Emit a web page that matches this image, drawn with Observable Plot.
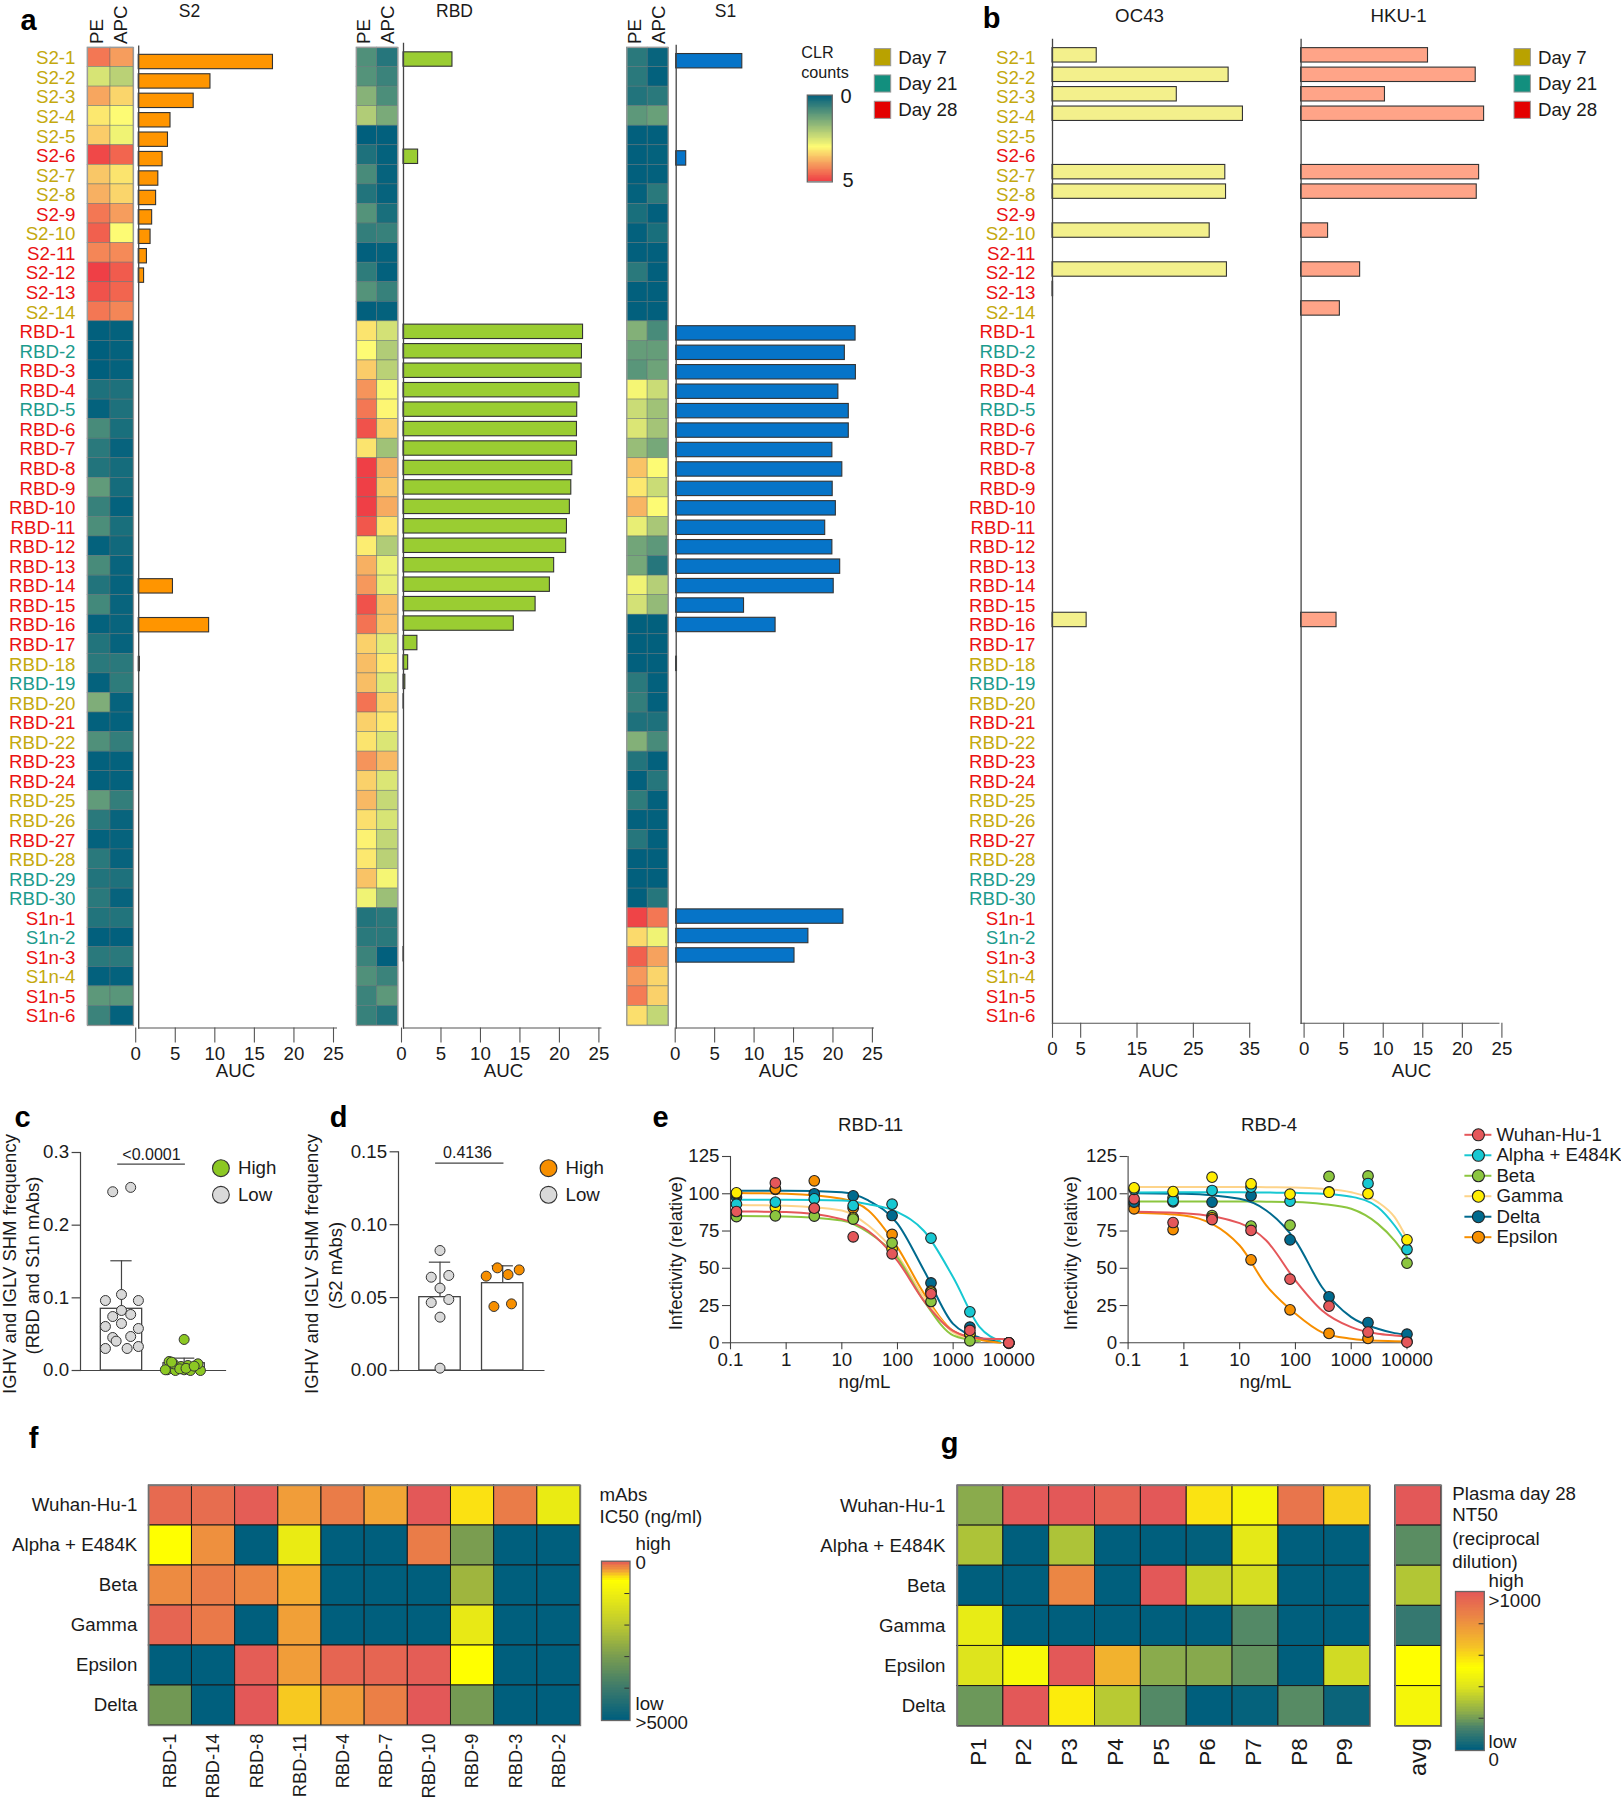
<!DOCTYPE html>
<html><head><meta charset="utf-8">
<script src="https://cdn.jsdelivr.net/npm/d3@7"></script>
<script src="https://cdn.jsdelivr.net/npm/@observablehq/plot@0.6"></script>
<style>html,body{margin:0;padding:0;background:#fff}#root{position:relative;width:1621px;height:1800px;overflow:hidden}</style>
</head><body><div id="root"></div>
<script>
// ---------- DATA ----------
const rowNames=["S2-1","S2-2","S2-3","S2-4","S2-5","S2-6","S2-7","S2-8","S2-9","S2-10","S2-11","S2-12","S2-13","S2-14",
"RBD-1","RBD-2","RBD-3","RBD-4","RBD-5","RBD-6","RBD-7","RBD-8","RBD-9","RBD-10","RBD-11","RBD-12","RBD-13","RBD-14","RBD-15","RBD-16","RBD-17","RBD-18","RBD-19","RBD-20","RBD-21","RBD-22","RBD-23","RBD-24","RBD-25","RBD-26","RBD-27","RBD-28","RBD-29","RBD-30",
"S1n-1","S1n-2","S1n-3","S1n-4","S1n-5","S1n-6"];
const rowDay=[7,7,7,7,7,28,7,7,28,7,28,28,28,7,
28,21,28,28,21,28,28,28,28,28,28,28,28,28,28,28,28,7,21,7,28,7,28,28,7,7,28,7,21,21,
28,21,28,7,28,28];
const s2PE=[4.4,2.55,3.9,3.2,3.5,4.9,3.55,3.8,4.4,4.65,4.25,5,4.8,4.4,.02,0,0,.35,.05,.85,.5,.4,1.15,.65,.9,.05,.85,.4,.8,.05,.4,.5,.05,1.5,.03,.95,.03,.03,1.15,.5,.05,.5,.4,.5,.4,.02,.5,.03,1.1,.7];
const s2APC=[4,2.2,3.4,3,2.85,4.6,3.25,3.4,4,3,4.2,4.7,4.6,4.25,.05,.05,.05,.35,.35,.3,.08,.25,.25,.05,.3,.2,.1,.07,.1,.1,.07,.5,.55,.07,.05,.6,.05,.05,.6,.1,.07,.08,.35,.08,.4,.02,.5,.05,1.05,.05];
const rbdPE=[.95,1,1.6,2.1,0,.35,.85,.4,1,.6,.02,.55,1,.02,3.25,3,3.5,4.1,4.4,4.8,3.25,5,5,5,4.75,3.15,3.8,4.05,4.8,4.45,3.45,3.65,3.65,4.45,3.45,3.25,4.1,3.45,3.7,3.3,3.1,3.2,3.6,2.85,.4,.5,.7,.95,.7,.65];
const rbdAPC=[.45,.7,.9,1.45,.02,.05,.07,.07,.3,.65,.05,.03,.65,.05,2.5,2.1,2.2,2.95,3.05,3.45,1.9,3.8,3.55,3.85,3.25,2.1,2.8,2.75,3.65,3.6,2.7,3.2,2.65,3.45,3.2,2.6,3.7,2.6,2.35,2.55,2.3,2.2,2.9,1.85,.5,.5,.02,.7,1.1,.4];
const s1PE=[.5,.5,.4,1.1,.02,.02,.02,.05,.3,.03,.02,.5,.02,.02,1.55,1.2,1.05,2.9,2.4,2.6,1.8,3.6,3.2,3.75,2.75,1.35,1.4,2.85,2.5,.02,.02,.02,.5,.6,.35,1.55,.4,.03,.55,.03,.45,.02,.02,.02,4.95,3.35,4.65,4.05,4.35,3.3];
const s1APC=[.1,.03,.5,1.25,.02,.05,.03,.5,.02,.3,.02,.02,.02,.02,.85,1.2,1.3,2.4,1.9,1.95,1.4,3,2.4,3,2,1.1,.45,2.15,1.75,.02,.02,.02,.03,.03,.35,.85,.03,.45,.03,.03,.03,.02,.02,.45,4.4,2.85,3.95,3.4,3.45,2.3];
const s2AUC=[16.97,9.07,6.95,4.02,3.7,3.02,2.48,2.2,1.7,1.5,1.04,.68,0,0,0,0,0,0,0,0,0,0,0,0,0,0,0,4.33,0,8.9,0,.15,0,0,0,0,0,0,0,0,0,0,0,0,0,0,0,0,0,0];
const rbdAUC=[6.2,0,0,0,0,1.85,0,0,0,0,0,0,0,0,22.74,22.6,22.56,22.3,22,21.97,21.97,21.38,21.25,21.07,20.7,20.6,19.08,18.54,16.73,13.97,1.76,.59,.23,.05,0,0,0,0,0,0,0,0,0,0,0,0,.03,0,0,0];
const s1AUC=[8.38,0,0,0,0,1.27,0,0,0,0,0,0,0,0,22.74,21.38,22.78,20.56,21.88,21.88,19.8,21.06,19.84,20.24,18.89,19.8,20.79,19.97,8.6,12.6,0,.1,0,0,0,0,0,0,0,0,0,0,0,0,21.2,16.76,15,0,0,0];
const oc43AUC=[7.85,31.26,22.06,33.8,0,0,30.67,30.8,0,27.9,0,30.96,.1,0,0,0,0,0,0,0,0,0,0,0,0,0,0,0,0,6.06,0,0,0,0,0,0,0,0,0,0,0,0,0,0,0,0,0,0,0,0];
const hku1AUC=[16.04,22.07,10.6,23.13,0,0,22.5,22.2,0,3.41,0,7.46,0,4.9,0,0,0,0,0,0,0,0,0,0,0,0,0,0,0,4.48,0,0,0,0,0,0,0,0,0,0,0,0,0,0,0,0,0,0,0,0];
const channels=["PE","APC"];
const dayNames=["Day 7","Day 21","Day 28"];
const dayColors=["#b9a200","#128f7e","#e30000"];
const dayTextColors={7:"#c4a90e",21:"#1c9b8d",28:"#ea1212"};

// panel c / d
const cLowX=[.86,1.147,1,.744,1.27,1,.86,1.147,1,.744,1.27,1.147,.86,.915,.744,1.09,1.27];
const cLowY=[.246,.252,.1046,.0963,.0963,.0826,.0743,.0771,.0647,.0606,.0578,.0468,.0454,.0404,.0303,.0303,.033];
const cHighX=[2,1.73,1.86,2,2.1,2.26,1.76,1.83,1.95,2.06,2.22,1.7,1.8,1.93,2.03,2.16];
const cHighY=[.0427,.001,0,.001,0,0,.0124,.0092,.0055,.0069,.0092,.001,.0115,.0023,.003,.006];
const dLowX=[1,.86,1.14,1,.86,1.14,1,1];
const dLowY=[.0823,.064,.0652,.0565,.0466,.0487,.0366,.0016];
const dHighX=[1.915,1.737,2.085,2.263,1.86,2.14];
const dHighY=[.0704,.0647,.0658,.069,.0439,.0457];

// panel e
const seriesNames=["Wuhan-Hu-1","Alpha + E484K","Beta","Gamma","Delta","Epsilon"];
const lineColors=["#e5575a","#17c8d2","#8cc63f","#fdd48a","#006a8e","#f78f00"];
const dotColors=["#e5575a","#17c8d2","#8cc63f","#ffed00","#006a8e","#f78f00"];
const doses=[.128,.64,3.2,16,80,400,2000,10000];
const rbd11Dots={
 "Wuhan-Hu-1":[88.1,107.3,90.3,71.1,59.7,32.9,8.3,0],
 "Alpha + E484K":[93,94.4,96.6,92.1,93,70.2,20.8,0],
 "Beta":[84.7,85.2,85,83,67,27.7,1.3,0],
 "Gamma":[100.6,90.8,90,83.9,63,34,6,0],
 "Delta":[97.7,103,100,98.6,85.4,40.2,10.5,0],
 "Epsilon":[100,103.3,108.7,90.3,72.7,34.7,5.6,0]};
const rbd11CurveX=[.128,1,10,30,100,300,1000,3000,7000,10000];
const rbd11Curves={
 "Wuhan-Hu-1":[88.1,87.8,83,75,55,28,8,3,2.5,2.4],
 "Alpha + E484K":[96,96,95.5,93,87.7,75,44,10.5,1,null],
 "Beta":[85,84.8,82,74,57,28,5,1,null,null],
 "Gamma":[92.5,92,88.8,78.7,58.6,30.6,7,1,null,null],
 "Delta":[102,102,101,95.5,80,48.5,12.7,3.4,.5,null],
 "Epsilon":[100.5,100,96.6,88.8,64,33,8,2,0,null]};
const rbd4Dots={
 "Wuhan-Hu-1":[96.6,80.7,82.7,75.4,42.7,24.6,7.2,.4],
 "Alpha + E484K":[103,95.3,102.2,104.4,95,101.3,106.9,62.6],
 "Beta":[92.8,97.3,85.4,78.3,78.9,111.6,112,53.4],
 "Gamma":[104,101.5,111.1,106.7,99.7,101,100,69.1],
 "Delta":[94.4,94.6,94.4,98.8,69.1,30.9,13.6,5.8],
 "Epsilon":[89.9,76,83.9,55.7,22.1,6.3,2.9,.9]};
const rbd4CurveX=[.128,1,10,30,100,300,1000,3000,6000,10000];
const rbd4Curves={
 "Wuhan-Hu-1":[87.9,87,80.3,68.6,41.8,21.7,10.5,6,4.9,4.2],
 "Alpha + E484K":[100.8,101,101,100.8,100.6,100,98,91,78.7,66.4],
 "Beta":[94.8,94.8,94.8,94.7,94.4,93.2,89.9,79.8,68.6,57.5],
 "Gamma":[104.6,104.6,104.6,104.4,104.2,103.3,101,94.4,84.3,69.8],
 "Delta":[100.4,100,96.6,88.8,68.6,37.3,17.2,9.4,6.5,5.6],
 "Epsilon":[87.2,85.4,65.3,38.5,19.5,7,2.7,1.3,1.1,.9]};
const rbd11Order=["Delta","Epsilon","Gamma","Beta","Alpha + E484K","Wuhan-Hu-1"];
const rbd4Order=["Beta","Epsilon","Delta","Wuhan-Hu-1","Alpha + E484K","Gamma"];

// panels f / g
const variants=["Wuhan-Hu-1","Alpha + E484K","Beta","Gamma","Epsilon","Delta"];
const mAbs=["RBD-1","RBD-14","RBD-8","RBD-11","RBD-4","RBD-7","RBD-10","RBD-9","RBD-3","RBD-2"];
const ic50Scores=[
 [4.93,4.92,4.98,4.73,4.86,4.7,5,4.5,4.86,3.9],
 [4.4,4.78,0,3.9,0,0,4.86,2,0,0],
 [4.8,4.86,4.82,4.68,0,0,0,2.55,0,0],
 [4.95,4.87,0,4.72,0,0,0,3.85,0,0],
 [0,0,4.98,4.73,4.95,4.95,4.98,4.4,0,0],
 [1.85,0,5,4.58,4.73,4.85,5,1.9,0,0]];
const patients=["P1","P2","P3","P4","P5","P6","P7","P8","P9"];
const nt50Scores=[
 [1.15,5,5,4.85,5,2.9,2.4,4.5,3.1],
 [1.5,0,1.5,0,0,.02,2.1,0,0],
 [0,0,4.2,0,5,1.75,1.9,0,0],
 [2.15,0,0,0,0,0,.75,0,0],
 [1.98,2.45,5,3.5,1.15,1.13,.85,0,1.85],
 [.93,5,2.8,1.6,.75,0,.05,.78,.1]];
const nt50Avg=[5,.8,1.55,.5,2.6,2.4];

// ---------- LAYOUT ----------
const W=1621,H=1800,FONT="'Liberation Sans',Arial,sans-serif",FS=18.7;
const root=document.getElementById("root");
function box(l,r,t,b){return {width:W,height:H,marginLeft:l,marginRight:W-r,marginTop:t,marginBottom:H-b};}
function add(o){
  const p=Plot.plot({...o,style:{fontFamily:FONT,fontSize:FS+"px",background:"transparent",overflow:"visible",color:"#1a1a1a"}});
  p.style.position="absolute";p.style.left="0";p.style.top="0";root.append(p);
}
const clrScale={type:"linear",domain:[0,3,5],range:["#005f7d","#fdfb74","#ef3f46"]};
const ic50Scale={type:"linear",domain:[0,1,2,3,4,4.4,4.7,5],range:["#005f7d","#3d7a6b","#7a9d50","#bdc930","#efef10","#ffff00","#f2a535","#e35858"]};
const nt50Scale={type:"linear",domain:[0,.65,1.15,2,2.6,3.25,4.1,5],range:["#005f7d","#45806c","#8aab4c","#e0e51c","#ffff00","#f5c226","#ec8c42","#e35858"]};

// ---------- row labels (point scale: the range runs from first to last label centre) ----------
function rowLabels(right){
  add({...box(0,right,0,1100),x:{axis:null,domain:[0,1]},y:{axis:null,type:"point",domain:rowNames,range:[57.9,1016],round:false,padding:0},
    marks:[7,21,28].map(day=>Plot.text(rowNames.filter((n,i)=>rowDay[i]===day),{y:d=>d,text:d=>d,frameAnchor:"right",fill:dayTextColors[day],fontSize:FS}))});
}
rowLabels(75);rowLabels(1035);

// ---------- CLR heatmaps ----------
function clrHeat(l,r,pe,apc){
  const cells=rowNames.flatMap((row,i)=>[{row,ch:"PE",v:pe[i]},{row,ch:"APC",v:apc[i]}]);
  add({...box(l,r,47,1025),color:clrScale,x:{axis:null,domain:channels,padding:0,round:false},y:{axis:null,domain:rowNames,padding:0,round:false},
    marks:[Plot.cell(cells,{x:"ch",y:"row",fill:"v",stroke:"#5f6f72",strokeWidth:.6,strokeOpacity:.75}),Plot.frame({stroke:"#9a9a9a",strokeWidth:1.2})]});
}
clrHeat(87,133,s2PE,s2APC);clrHeat(356,397.5,rbdPE,rbdAPC);clrHeat(626.4,667.9,s1PE,s1APC);

// ---------- AUC bars ----------
function aucBars(o){
  const data=rowNames.map((row,i)=>({row,v:o.values[i]})).filter(d=>d.v>0);
  add({...box(o.l,o.r,o.top,o.bottom),
    x:{axis:null,domain:o.domain},
    y:{axis:null,domain:rowNames,range:o.yRange,round:false,paddingInner:.26,paddingOuter:.13},
    marks:[
      Plot.barX(data,{x:"v",y:"row",fill:o.fill,stroke:"#333",strokeWidth:1.1}),
      Plot.frame({anchor:"left",stroke:"#444",strokeWidth:1.3}),
      Plot.frame({anchor:"bottom",stroke:"#555",strokeWidth:1.1}),
      Plot.axisX({ticks:o.ticks,tickSize:15,tickPadding:3.5,stroke:"#555",strokeWidth:1.1,label:null,dx:o.dx||0,fontSize:FS})
    ]});
}
const t25=[0,5,10,15,20,25];
aucBars({l:138.2,r:336,top:45.7,bottom:1027.5,domain:[0,25],values:s2AUC,fill:"#ff9500",yRange:[51.8,1022.8],ticks:t25,dx:-3});
aucBars({l:403,r:600.4,top:43,bottom:1027.5,domain:[0,25],values:rbdAUC,fill:"#9acd32",yRange:[49.3,1021.8],ticks:t25,dx:-2});
aucBars({l:675.7,r:872.9,top:45,bottom:1027.5,domain:[0,25],values:s1AUC,fill:"#0674c8",yRange:[51,1023],ticks:t25,dx:-1});
aucBars({l:1052,r:1249.2,top:39,bottom:1022.8,domain:[0,35],values:oc43AUC,fill:"#f3f08c",yRange:[45.1,1018.6],ticks:[0,5,15,25,35],dx:0});
aucBars({l:1300.6,r:1498.4,top:39,bottom:1022.8,domain:[0,25],values:hku1AUC,fill:"#ffa488",yRange:[45.1,1018.6],ticks:t25,dx:3});

// ---------- day legends ----------
function dayLegend(l,r){
  add({...box(l,r,0,200),color:{type:"identity"},x:{axis:null,domain:[0,1]},
    y:{axis:null,domain:dayNames,range:[44,123],paddingInner:.35,paddingOuter:.175,round:false},
    marks:[Plot.barX(dayNames,{x1:()=>0,x2:()=>1,y:d=>d,fill:(d,i)=>dayColors[i],stroke:"#999",strokeWidth:1}),
      Plot.axisY({anchor:"right",tickSize:0,tickPadding:7,label:null,fontSize:FS})]});
}
dayLegend(874.3,890.7);dayLegend(1514,1530.4);

// ---------- colour bars ----------
const barSteps=d3.range(0,101);
function colorBar(o){
  add({...box(o.l,o.r,o.top,o.bottom),color:o.scale,x:{axis:null,domain:[0,1]},
    y:{axis:null,domain:o.reverse?barSteps.slice().reverse():barSteps,padding:0,round:false},
    marks:[Plot.cell(barSteps,{y:d=>d,fill:d=>d/20,shapeRendering:"crispEdges"}),
      ...(o.notches?[Plot.ruleY([20,40,60,80],{y:d=>d,x1:()=>.82,x2:()=>1,stroke:"#333",strokeWidth:1})]:[]),
      Plot.frame({stroke:"#666",strokeWidth:1.3})]});
}
colorBar({l:806.8,r:831.8,top:94.6,bottom:181.4,scale:clrScale});
colorBar({l:601,r:629.5,top:1560.7,bottom:1720,scale:ic50Scale,reverse:true,notches:true});
colorBar({l:1455,r:1483.8,top:1591,bottom:1750,scale:nt50Scale,reverse:true,notches:true});

// ---------- panels c, d ----------
function toPts(xs,ys){return xs.map((x,i)=>({x,y:ys[i]}));}
function shmPanel(o){
  const bars=[{x1:.67,x2:1.33,x:1,mean:o.lowMean,top:o.lowTop,cap:.17},{x1:1.67,x2:2.33,x:2,mean:o.highMean,top:o.highTop,cap:.17}];
  add({...box(o.l,o.r,o.t,1370),x:{axis:null,domain:o.xDomain},y:{axis:null,domain:o.yDomain},
    marks:[
      Plot.rectY(bars,{x1:"x1",x2:"x2",y:"mean",fill:"#fff",stroke:"#444",strokeWidth:1.3}),
      Plot.ruleX(bars,{x:"x",y1:"mean",y2:"top",stroke:"#444",strokeWidth:1.2}),
      Plot.ruleY(bars,{y:"top",x1:d=>d.x-d.cap,x2:d=>d.x+d.cap,stroke:"#444",strokeWidth:1.2}),
      Plot.frame({anchor:"left",stroke:"#444",strokeWidth:1.2}),
      Plot.frame({anchor:"bottom",stroke:"#444",strokeWidth:1.2}),
      Plot.axisY({ticks:o.ticks,tickFormat:d3.format(o.fmt),tickSize:8.4,tickPadding:3,label:null,stroke:"#444",strokeWidth:1.2,fontSize:FS}),
      Plot.ruleY([o.sigY],{x1:o.sig[0],x2:o.sig[1],stroke:"#444",strokeWidth:1.2}),
      Plot.dot(o.low,{x:"x",y:"y",r:5,fill:"#d9d9d9",stroke:"#333",strokeWidth:1}),
      Plot.dot(o.high,{x:"x",y:"y",r:5,fill:o.color,stroke:"#333",strokeWidth:1})
    ]});
}
shmPanel({l:80,r:225,t:1152,xDomain:[.346,2.66],yDomain:[0,.3],ticks:[0,.1,.2,.3],fmt:".1f",lowMean:.0849,lowTop:.151,highMean:.01,highTop:.017,
  sigY:.284,sig:[.94,2.02],low:toPts(cLowX,cLowY),high:toPts(cHighX,cHighY),color:"#8cc823"});
shmPanel({l:398,r:543.4,t:1151.3,xDomain:[.338,2.657],yDomain:[0,.15],ticks:[0,.05,.1,.15],fmt:".2f",lowMean:.0503,lowTop:.0743,highMean:.0599,highTop:.0718,
  sigY:.1422,sig:[.93,2.02],low:toPts(dLowX,dLowY),high:toPts(dHighX,dHighY),color:"#f78f00"});
function highLow(x,color){
  const names=["High","Low"],fills=[color,"#d9d9d9"];
  add({...box(x-8,x+8,1167.7,1194.3),color:{type:"identity"},x:{axis:null,domain:[0,1]},y:{axis:null,type:"point",domain:names,padding:0,round:false},
    marks:[Plot.dot(names,{x:()=>.5,y:d=>d,r:8.4,fill:(d,i)=>fills[i],stroke:"#333",strokeWidth:1.1}),
      Plot.axisY({anchor:"right",tickSize:0,tickPadding:9,label:null,fontSize:FS})]});
}
highLow(220.4,"#8cc823");highLow(548,"#f78f00");

// ---------- panel e ----------
function neut(o){
  const marks=[];
  for(const s of o.order){
    const i=seriesNames.indexOf(s);
    marks.push(Plot.line(o.curveX.map((x,j)=>({x,y:o.curves[s][j]})).filter(d=>d.y!=null),{x:"x",y:"y",stroke:lineColors[i],strokeWidth:2,curve:"monotone-x"}));
  }
  for(const s of o.order){
    const i=seriesNames.indexOf(s);
    marks.push(Plot.dot(doses.map((x,j)=>({x,y:o.dots[s][j]})),{x:"x",y:"y",r:5.3,fill:dotColors[i],stroke:"#222",strokeWidth:1.1}));
  }
  add({...box(o.l,o.r,1156,1342.3),x:{axis:null,type:"log",domain:[.1,10000]},y:{axis:null,domain:[0,125]},
    marks:[Plot.frame({anchor:"left",stroke:"#444",strokeWidth:1.1}),Plot.frame({anchor:"bottom",stroke:"#444",strokeWidth:1.1}),
      Plot.axisX({ticks:[.1,1,10,100,1000,10000],tickFormat:d=>String(d),tickSize:7,tickPadding:3,label:null,stroke:"#444",strokeWidth:1.1,fontSize:FS}),
      Plot.axisY({ticks:[0,25,50,75,100,125],tickSize:8,tickPadding:3,label:null,stroke:"#444",strokeWidth:1.1,fontSize:FS}),
      ...marks]});
}
neut({l:730,r:1008.3,curveX:rbd11CurveX,curves:rbd11Curves,dots:rbd11Dots,order:rbd11Order});
neut({l:1127.6,r:1406.5,curveX:rbd4CurveX,curves:rbd4Curves,dots:rbd4Dots,order:rbd4Order});
add({...box(1464.4,1491.4,1134.3,1236.7),color:{type:"identity"},x:{axis:null,domain:[0,1]},y:{axis:null,type:"point",domain:seriesNames,padding:0,round:false},
  marks:[Plot.ruleY(seriesNames,{y:d=>d,stroke:(d,i)=>lineColors[i],strokeWidth:2}),
    Plot.dot(seriesNames,{x:()=>.5,y:d=>d,r:6,fill:(d,i)=>dotColors[i],stroke:"#222",strokeWidth:1.1}),
    Plot.axisY({anchor:"right",tickSize:0,tickPadding:4.5,label:null,fontSize:FS})]});

// ---------- panels f, g ----------
function variantHeat(o){
  const cells=variants.flatMap((row,i)=>o.cols.map((col,j)=>({row,col,v:o.values[i][j]})));
  add({...box(o.l,o.r,1485,o.b),color:o.scale,x:{axis:null,domain:o.cols,padding:0,round:false},y:{axis:null,domain:variants,padding:0,round:false},
    marks:[Plot.cell(cells,{x:"col",y:"row",fill:"v",stroke:"#1a1a1a",strokeWidth:1}),
      Plot.frame({stroke:"#777",strokeWidth:1.4}),
      ...(o.rowLabels?[Plot.axisY({tickSize:0,tickPadding:o.rowPad,label:null,fontSize:FS})]:[]),
      Plot.axisX({tickRotate:-90,tickSize:0,tickPadding:o.colPad,label:null,fontSize:o.colSize,dx:o.colDx||0})]});
}
variantHeat({l:148.3,r:580,b:1725,cols:mAbs,values:ic50Scores,scale:ic50Scale,rowLabels:true,rowPad:11.5,colPad:8,colSize:18.3});
variantHeat({l:957,r:1369.6,b:1725.7,cols:patients,values:nt50Scores,scale:nt50Scale,rowLabels:true,rowPad:12,colPad:12,colSize:22.5,colDx:-2});
variantHeat({l:1394.8,r:1440.9,b:1725.7,cols:["avg"],values:nt50Avg.map(v=>[v]),scale:nt50Scale,rowLabels:false,colPad:12,colSize:23.5});

// ---------- free text ----------
const lettersText=[["a",28,20],["b",991,18],["c",22,1117],["d",338,1117],["e",660,1117],["f",33,1438],["g",949,1443]];
const titleText=[["S2",189,10.5,17.5],["RBD",454,10.5,17.5],["S1",725,10.5,17.5],["OC43",1139,16],["HKU-1",1398,16],["RBD-11",870,1125],["RBD-4",1268.5,1125],
  ["AUC",235,1071],["AUC",503,1071],["AUC",778,1071],["AUC",1158,1071],["AUC",1411,1071],["ng/mL",864,1382],["ng/mL",1265,1382],
  ["<0.0001",151,1154,16],["0.4136",467,1152,16]];
const startText=[["CLR",800.7,52,16.2],["counts",800.7,72,16.2],["0",840,96.5,20],["5",842,180,20],
  ["mAbs",599,1494.7],["IC50 (ng/ml)",599,1517],["high",635,1544],["0",635,1562.7],["low",635,1704],[">5000",635,1722.7],
  ["Plasma day 28",1451.8,1493.3],["NT50",1451.8,1515],["(reciprocal",1451.8,1538.3],["dilution)",1451.8,1561.7],
  ["high",1488,1580.5],[">1000",1488,1601],["low",1488,1741.7],["0",1488,1759.3]];
const uprightCentered=[["IGHV and IGLV SHM frequency",9.5,1263.5],["(RBD and S1n mAbs)",32.5,1265],["IGHV and IGLV SHM frequency",312,1263.5],["(S2 mAbs)",336,1265],
  ["Infectivity (relative)",676,1252.7],["Infectivity (relative)",1071,1252.7]];
const channelHeads=[["PE",97,43.5],["APC",121,43.5],["PE",364,43.5],["APC",388,43.5],["PE",634.6,43.5],["APC",659,43.5]];
add({width:W,height:H,margin:0,x:{type:"identity",axis:null},y:{type:"identity",axis:null},marks:[
  Plot.text(lettersText,{x:d=>d[1],y:d=>d[2],text:d=>d[0],fontWeight:"bold",fontSize:29,fill:"#000"}),
  Plot.text(titleText,{x:d=>d[1],y:d=>d[2],text:d=>d[0],fontSize:d=>d[3]||FS,textAnchor:"middle"}),
  Plot.text(startText,{x:d=>d[1],y:d=>d[2],text:d=>d[0],fontSize:d=>d[3]||FS,textAnchor:"start"}),
  Plot.text(uprightCentered,{x:d=>d[1],y:d=>d[2],text:d=>d[0],fontSize:18.5,rotate:-90,textAnchor:"middle"}),
  Plot.text(channelHeads,{x:d=>d[1],y:d=>d[2],text:d=>d[0],fontSize:FS,rotate:-90,textAnchor:"start"})
]});
</script></body></html>
